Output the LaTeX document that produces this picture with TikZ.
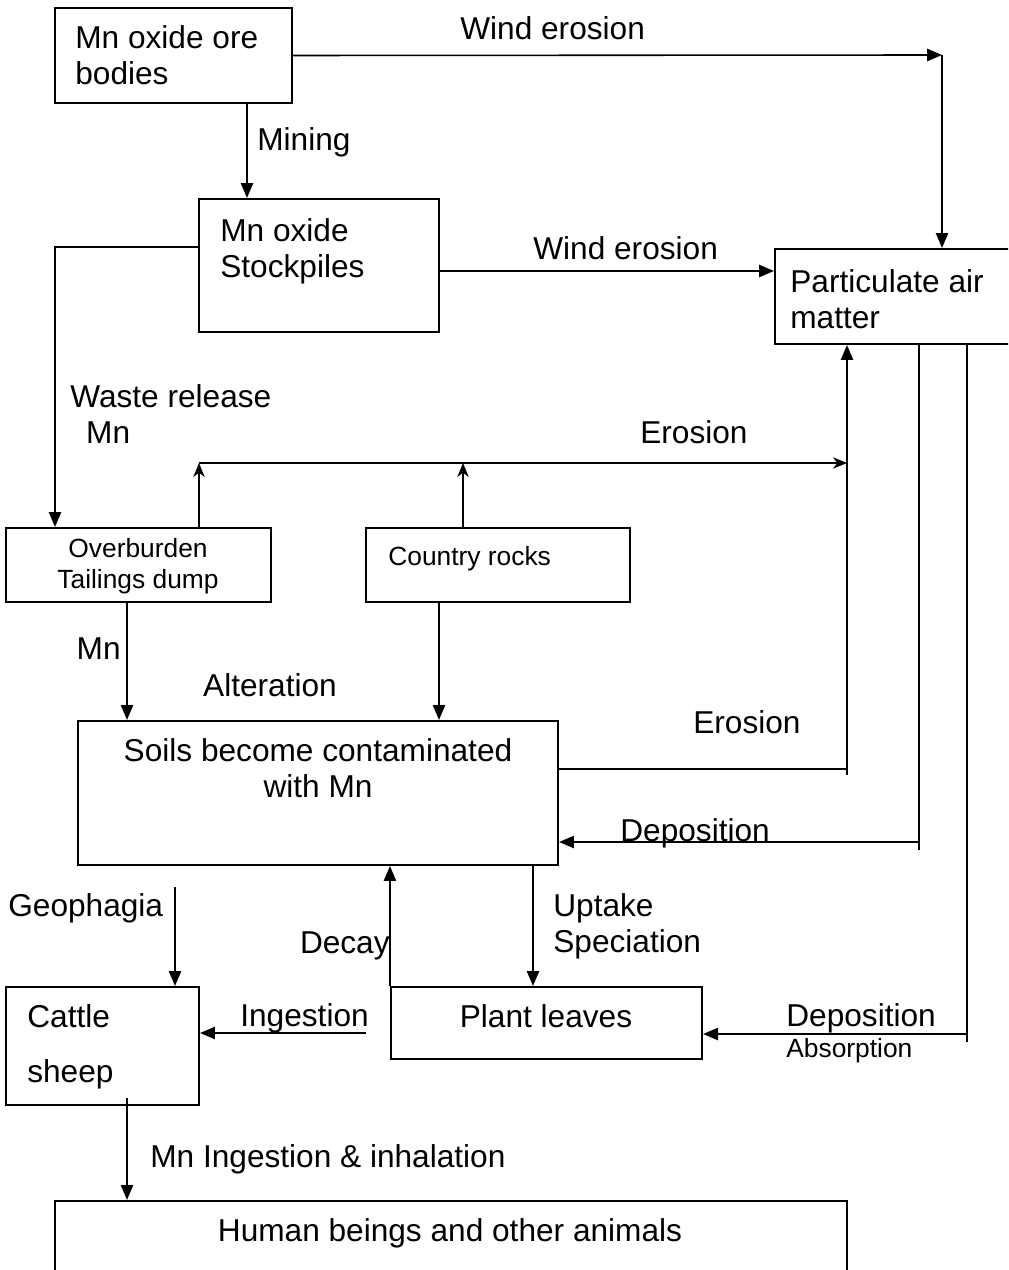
\documentclass[tikz,border=0pt]{standalone}
\usepackage{fontspec}
\setmainfont{Liberation Sans}
\usetikzlibrary{arrows.meta,fit}

\tikzset{
  box/.style={draw, line width=1.2pt, inner sep=0pt},
  txt/.style={inner sep=0pt, font=\fontsize{18}{20.5}\selectfont, align=left},
  lbl/.style={inner sep=0pt, font=\fontsize{18}{20.5}\selectfont, text height=14pt, text depth=0.4pt},
  small/.style={inner sep=0pt, font=\fontsize{15}{17.6}\selectfont, align=center},
  slbl/.style={small, text height=11pt, text depth=0.4pt},
  arr/.style={line width=0.9pt, -{Triangle[length=8.5pt,width=7pt]}},
  sarr/.style={line width=0.9pt, -{Stealth[length=8pt,width=6.5pt,inset=2.5pt]}},
  link/.style={line width=0.9pt},
}

\begin{document}
\begin{tikzpicture}[x=0.02cm, y=-0.02cm]
  \useasboundingbox (0,0) rectangle (1008,1270);
  \clip (0,0) rectangle (1008,1270);

  % boxes
  \node[box, fit={(55,8) (292,103)}] (ore) {};
  \node[box, fit={(199,199) (439,332)}] (stock) {};
  \node[box, fit={(775,249) (1014,344)}] (part) {};
  \node[box, fit={(6,528) (271,602)}] (over) {};
  \node[box, fit={(366,528) (630,602)}] (rocks) {};
  \node[box, fit={(78,721) (558,865)}] (soil) {};
  \node[box, fit={(6,987) (199,1105)}] (cattle) {};
  \node[box, fit={(391,987) (702,1059)}] (plant) {};
  \node[box, fit={(55,1201) (847,1290)}] (human) {};

  % box texts
  \node[txt, anchor=west] (oretext) at (75,55) {Mn oxide ore\\bodies};
  \node[txt, anchor=west] (stocktext) at (220,251) {Mn oxide\\Stockpiles};
  \node[txt, anchor=west] (parttext) at (790,299) {Particulate air\\matter};
  \node[small] (overtext) at (138,566) {Overburden\\Tailings dump};
  \node[slbl, anchor=west] (rockstext) at (388,556) {Country rocks};
  \node[txt, align=center] (soiltext) at (318,768) {Soils become contaminated\\with Mn};
  \node[txt, anchor=west] (cattletext) at (27,1047) {Cattle\\[11pt]sheep};
  \node[lbl] (planttext) at (546,1016) {Plant leaves};
  \node[lbl] (humantext) at (450,1230) {Human beings and other animals};

  % ore body and stockpiles
  \coordinate (windtop) at (942,55);
  \draw[arr] (ore.east) -- (windtop);
  \draw[arr] (windtop) -- (windtop |- part.north);
  \node[lbl, anchor=west] (wind1) at (460,28) {Wind erosion};
  \draw[arr] (ore.south -| 247,0) -- (stock.north -| 247,0);
  \node[lbl, anchor=west] (mining) at (257,139) {Mining};
  \draw[arr] (stock.east |- 0,271) -- (part.west |- 0,271);
  \node[lbl, anchor=west] (wind2) at (533,248) {Wind erosion};
  \draw[arr] (stock.west |- 0,247) -| (over.north -| 55,0);
  \node[txt, anchor=west] (waste) at (70,414) {Waste release\\\hspace*{0.5em}Mn};

  % erosion back into the air
  \coordinate (erostart) at (199,463);
  \coordinate (erotop) at (847,463);
  \draw[sarr] (over.north -| erostart) -- (erostart);
  \draw[sarr] (rocks.north -| 463,0) -- (erotop -| 463,0);
  \draw[sarr] (erostart) -- (erotop);
  \node[lbl, anchor=west] (ero1) at (640,432) {Erosion};
  \coordinate (erofoot) at (847,775);
  \draw[link] (soil.east |- 0,769) -- (erofoot |- 0,769);
  \draw[arr] (erofoot) -- (erofoot |- part.south);
  \node[lbl, anchor=west] (ero2) at (693,722) {Erosion};

  % into the soils
  \draw[arr] (over.south -| 127,0) -- (soil.north -| 127,0);
  \node[lbl, anchor=east] (mn) at (121,648) {Mn};
  \draw[arr] (rocks.south -| 439,0) -- (soil.north -| 439,0);
  \node[lbl] (alter) at (270,685) {Alteration};

  % deposition from the air
  \coordinate (depfoot) at (919,850);
  \draw[link] (part.south -| depfoot) -- (depfoot);
  \draw[arr] (depfoot |- 0,842) -- (soil.east |- 0,842);
  \node[lbl, anchor=west] (dep1) at (620,830) {Deposition};
  \coordinate (absfoot) at (967,1042);
  \draw[link] (part.south -| absfoot) -- (absfoot);
  \draw[arr] (absfoot |- 0,1034) -- (plant.east |- 0,1034);
  \node[lbl, anchor=west] (dep2) at (786,1015) {Deposition};
  \node[slbl, anchor=west] (absorb) at (786,1048) {Absorption};

  % soils, plants and animals
  \coordinate (geotop) at (175,887);
  \draw[arr] (geotop) -- (geotop |- cattle.north);
  \node[lbl, anchor=west] (geo) at (8,905) {Geophagia};
  \draw[arr] (plant.north west) -- (plant.north west |- soil.south);
  \node[lbl, anchor=east] (decay) at (390,942) {Decay};
  \draw[arr] (soil.south -| 533,0) -- (plant.north -| 533,0);
  \node[txt, anchor=west] (uptake) at (553,926) {Uptake\\Speciation};
  \coordinate (ingfrom) at (366,1033);
  \draw[arr] (ingfrom) -- (ingfrom -| cattle.east);
  \node[lbl, anchor=west] (ingest) at (240,1015) {Ingestion};
  \coordinate (eatfrom) at (127,1098);
  \draw[arr] (eatfrom) -- (eatfrom |- human.north);
  \node[lbl, anchor=west] (eat) at (150,1156) {Mn Ingestion \& inhalation};
\end{tikzpicture}
\end{document}
